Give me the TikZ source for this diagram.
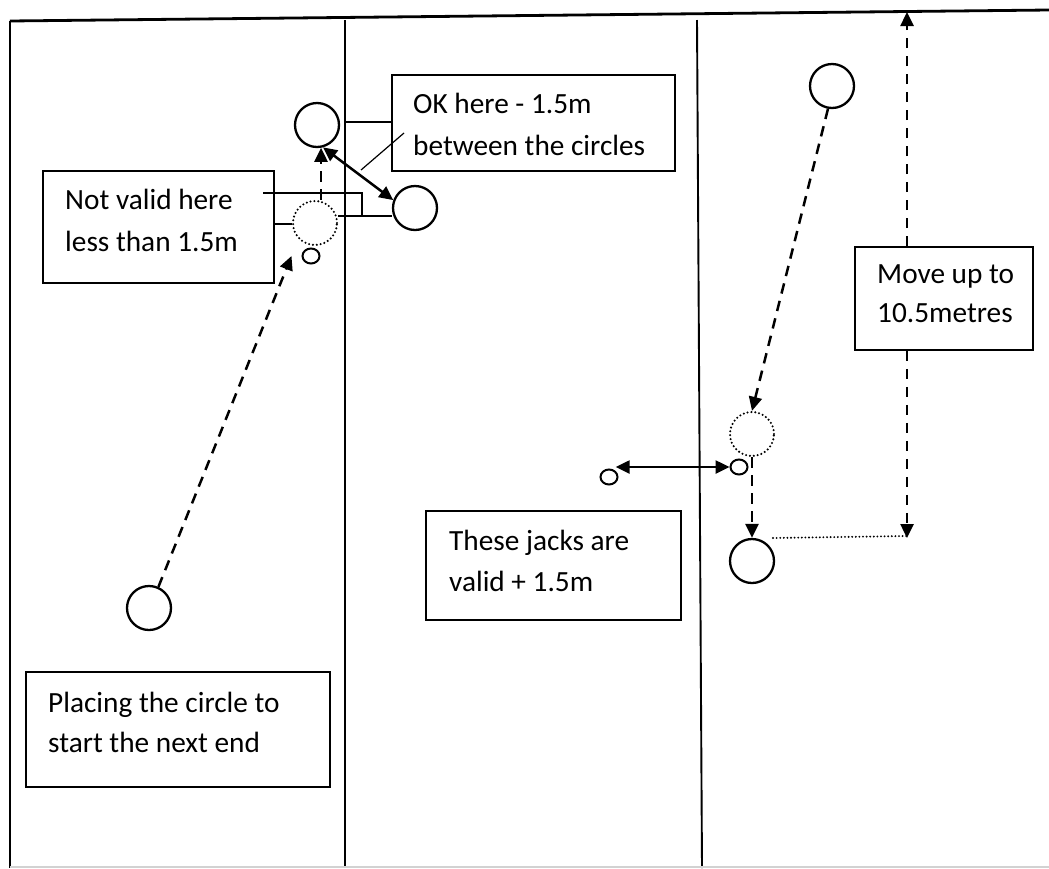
\documentclass[tikz,border=0pt]{standalone}
\usepackage{fontspec}
\setmainfont{Carlito}
\usetikzlibrary{arrows.meta,shapes.geometric}
\begin{document}
\begin{tikzpicture}[x=1pt,y=-1pt,
  court/.style={line width=1.9pt},
  topedge/.style={line width=2.8pt},
  box/.style={draw,rectangle,line width=1.8pt,inner sep=0pt},
  lbl/.style={anchor=base west,inner sep=0pt,font=\fontsize{29.3}{41}\selectfont},
  ring/.style={circle,draw,line width=2.3pt,minimum size=44pt,inner sep=0pt},
  dotring/.style={circle,draw,line width=2.3pt,line cap=round,dash pattern=on 0pt off 3.9pt,minimum size=44pt,inner sep=0pt},
  jack/.style={ellipse,draw,line width=2pt,minimum width=17pt,minimum height=15pt,inner sep=0pt},
  thin/.style={line width=1.2pt},
  dasharrow/.style={line width=2.5pt,dash pattern=on 10.5pt off 7.5pt,-{Triangle[length=14pt,width=13pt]}},
  dblarrow/.style={line width=2.5pt,{Triangle[length=14pt,width=13pt]}-{Triangle[length=14pt,width=13pt]}},
  dotline/.style={line width=2.1pt,line cap=round,dash pattern=on 0pt off 3.6pt}
]
\useasboundingbox (0,0) rectangle (1049,868);
\fill[white] (0,0) rectangle (1049,868);

% court lines
\draw[topedge] (10,21) -- (1049,10);
\draw[court] (10,21) -- (10,868);
\draw[court] (345,20) -- (345,868);
\draw[court] (697,20) -- (702,868);
\draw[gray!35,line width=1.2pt] (10,867) -- (1049,867);

% boxes
\node[box,minimum width=283pt,minimum height=96pt] (OK) at (533.5,123) {};
\node[lbl] (OKa) at (413,113) {OK here - 1.5m};
\node[lbl] (OKb) at (413,155) {between the circles};

\node[box,minimum width=231pt,minimum height=112pt] (NV) at (158.5,227) {};
\node[lbl] (NVa) at (65,209) {Not valid here};
\node[lbl] (NVb) at (65,251) {less than 1.5m};

\node[box,minimum width=304pt,minimum height=115pt] (PL) at (178,729.5) {};
\node[lbl] (PLa) at (48,712) {Placing the circle to};
\node[lbl] (PLb) at (48,752) {start the next end};

\node[box,minimum width=255pt,minimum height=109pt] (TJ) at (553.5,565.5) {};
\node[lbl] (TJa) at (449,550) {These jacks are};
\node[lbl] (TJb) at (449,591) {valid + 1.5m};

\node[box,minimum width=178pt,minimum height=103pt] (MV) at (944,298.5) {};
\node[lbl] (MVa) at (877,283) {Move up to};
\node[lbl] (MVb) at (877,322) {10.5metres};

% circles and jacks
\node[ring] (A) at (317,125) {};
\node[ring] (B) at (415,208) {};
\node[dotring] (C) at (315,223) {};
\node[jack] (J1) at (311,256) {};
\node[ring] (D) at (149,608) {};
\node[ring] (E) at (832,86) {};
\node[dotring] (F) at (752,434) {};
\node[jack] (J2) at (739,467) {};
\node[jack] (J3) at (609,477) {};
\node[ring] (G) at (752,561) {};

\coordinate (mtop) at (907,12);
\coordinate (mbot) at (907,538);

% callout lines
\draw[thin] (345,122) -- (OK.west |- 345,122);
\draw[thin] (361,170) -- (404,133);
\draw[thin] (263,193) -- (362,193) -- (362,216);
\draw[thin] (C.east |- 362,216) -- (B.west |- 362,216);
\draw[thin] (NV.east |- 0,224) -- (C.west |- 0,224);

% connectors
\draw[dasharrow] (D.66) -- ([xshift=-10pt]J1.west);
\draw[dasharrow] (C.north -| A.-80) -- (A.-80);
\draw[dblarrow] (A.-75) -- (B.160);
\draw[dasharrow] (E.-100) -- (F.north);
\draw[dasharrow] (F.south) -- (G.north);
\draw[dblarrow] (J3.north east |- J2.west) -- (J2.west);
\draw[dasharrow] (MV.north -| mtop) -- (mtop);
\draw[dasharrow] (MV.south -| mbot) -- (mbot);
\draw[dotline] ([xshift=21pt]G.center |- mbot) -- ([yshift=2pt]mbot);
\end{tikzpicture}
\end{document}
